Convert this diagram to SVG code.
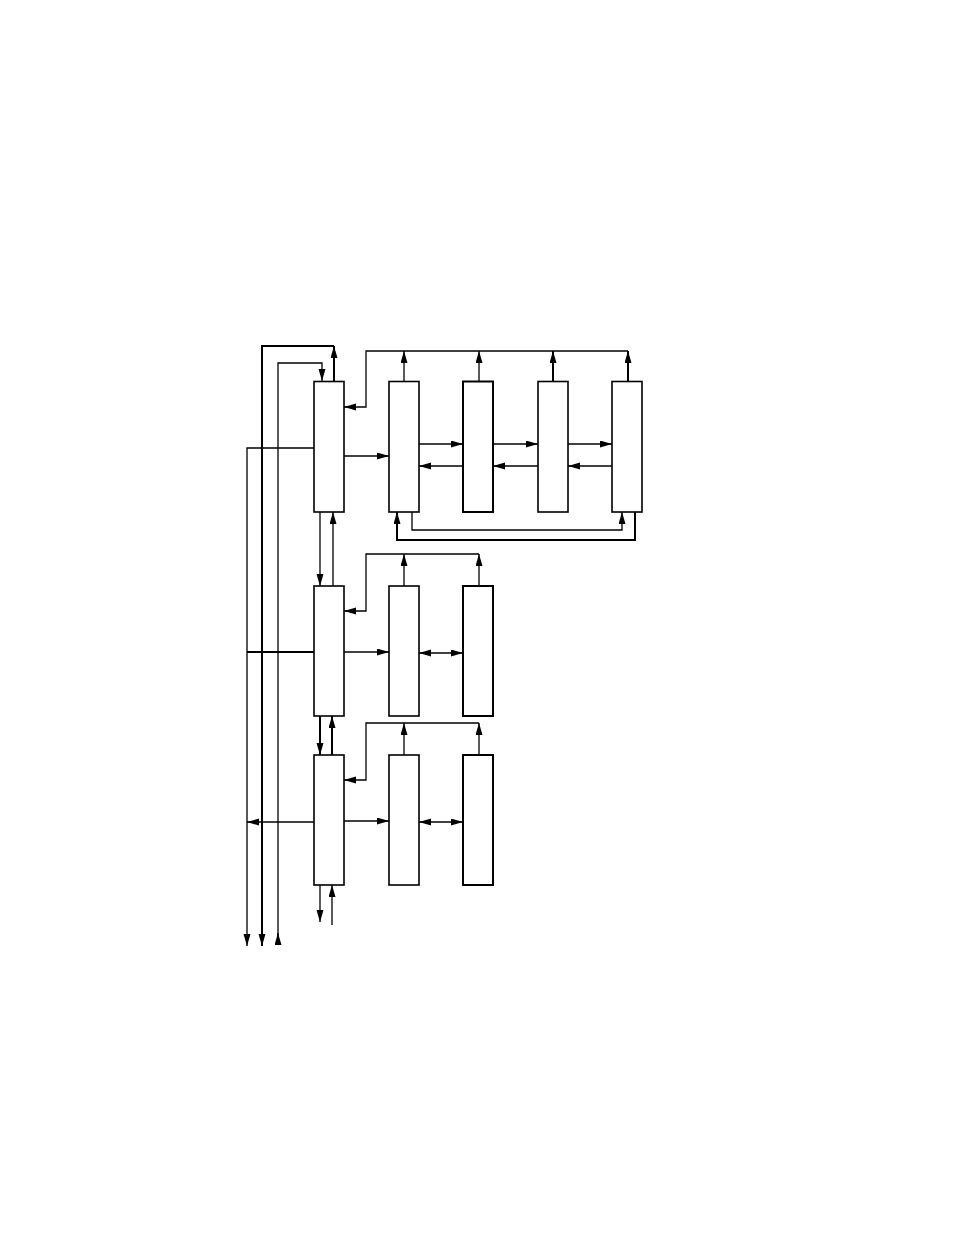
<svg xmlns="http://www.w3.org/2000/svg" width="954" height="1235" viewBox="0 0 954 1235">
<style>
.box{fill:#fff;stroke:#000;stroke-width:1.6}
.bx{fill:#fff;stroke:#000;stroke-width:2}
.ln{fill:none;stroke:#000;stroke-width:1.3}
.th{fill:none;stroke:#000;stroke-width:2}
</style>
<defs>
<marker id="ah" markerUnits="userSpaceOnUse" markerWidth="13" markerHeight="8" refX="12" refY="3.5" orient="auto">
<path d="M0,0 L12,3.5 L0,7 z" fill="#000"/>
</marker>
<marker id="ab" markerUnits="userSpaceOnUse" markerWidth="13" markerHeight="8" refX="12" refY="3.5" orient="auto-start-reverse">
<path d="M0,0 L12,3.5 L0,7 z" fill="#000"/>
</marker>
</defs>
<rect width="954" height="1235" fill="#fff"/>
<g id="connectors">
<line class="th" x1="334" y1="381" x2="334" y2="346" marker-end="url(#ah)"/>
<polyline class="th" points="334,346 262,346 262,946" marker-end="url(#ah)"/>
<polyline class="ln" points="278,945 278,363 322,363 322,381" marker-end="url(#ah)"/>
<line class="ln" x1="278" y1="945" x2="278" y2="933" marker-end="url(#ah)"/>
<polyline class="ln" points="314,448 247,448 247,946" marker-end="url(#ah)"/>
<line class="th" x1="314" y1="652" x2="247" y2="652"/>
<line class="ln" x1="314" y1="822" x2="247" y2="822" marker-end="url(#ah)"/>
<line class="ln" x1="344" y1="456" x2="389" y2="456" marker-end="url(#ah)"/>
<polyline class="ln" points="628,351 366,351 366,407 344,407" marker-end="url(#ah)"/>
<line class="ln" x1="404" y1="381" x2="404" y2="351" marker-end="url(#ah)"/>
<line class="ln" x1="479" y1="381" x2="479" y2="351" marker-end="url(#ah)"/>
<line class="th" x1="553" y1="381" x2="553" y2="351" marker-end="url(#ah)"/>
<line class="th" x1="628" y1="381" x2="628" y2="351" marker-end="url(#ah)"/>
<line class="ln" x1="419" y1="444" x2="463" y2="444" marker-end="url(#ah)"/>
<line class="ln" x1="463" y1="466" x2="419" y2="466" marker-end="url(#ah)"/>
<line class="ln" x1="493" y1="444" x2="538" y2="444" marker-end="url(#ah)"/>
<line class="ln" x1="538" y1="466" x2="493" y2="466" marker-end="url(#ah)"/>
<line class="ln" x1="568" y1="444" x2="612" y2="444" marker-end="url(#ah)"/>
<line class="ln" x1="612" y1="466" x2="568" y2="466" marker-end="url(#ah)"/>
<polyline class="ln" points="412,512 412,530 622,530 622,512" marker-end="url(#ah)"/>
<polyline class="th" points="635,512 635,540 397,540 397,512" marker-end="url(#ah)"/>
<line class="ln" x1="320" y1="512" x2="320" y2="586" marker-end="url(#ah)"/>
<line class="ln" x1="333" y1="586" x2="333" y2="512" marker-end="url(#ah)"/>
<polyline class="ln" points="479,554 366,554 366,611 344,611" marker-end="url(#ah)"/>
<line class="ln" x1="404" y1="586" x2="404" y2="554" marker-end="url(#ah)"/>
<line class="ln" x1="479" y1="586" x2="479" y2="554" marker-end="url(#ah)"/>
<line class="ln" x1="344" y1="652" x2="389" y2="652" marker-end="url(#ah)"/>
<line class="ln" x1="419" y1="653" x2="463" y2="653" marker-start="url(#ab)" marker-end="url(#ab)"/>
<line class="th" x1="320" y1="716" x2="320" y2="755" marker-end="url(#ah)"/>
<line class="th" x1="332" y1="755" x2="332" y2="716" marker-end="url(#ah)"/>
<polyline class="ln" points="479,723 366,723 366,780 344,780" marker-end="url(#ah)"/>
<line class="ln" x1="404" y1="755" x2="404" y2="723" marker-end="url(#ah)"/>
<line class="ln" x1="479" y1="755" x2="479" y2="723" marker-end="url(#ah)"/>
<line class="ln" x1="344" y1="821" x2="389" y2="821" marker-end="url(#ah)"/>
<line class="ln" x1="419" y1="822" x2="463" y2="822" marker-start="url(#ab)" marker-end="url(#ab)"/>
<line class="ln" x1="320" y1="885" x2="320" y2="922" marker-end="url(#ah)"/>
<line class="ln" x1="332" y1="925" x2="332" y2="885" marker-end="url(#ah)"/>
</g>
<g id="A1"><rect class="box" x="314" y="381.5" width="30" height="130.5"/></g>
<g id="B1"><rect class="box" x="389" y="381.5" width="30" height="130.5"/></g>
<g id="C1"><rect class="bx" x="463" y="381.5" width="30" height="130.5"/></g>
<g id="D1"><rect class="box" x="538" y="381.5" width="30" height="130.5"/></g>
<g id="E1"><rect class="box" x="612" y="381.5" width="30" height="130.5"/></g>
<g id="A2"><rect class="box" x="314" y="586" width="30" height="130"/></g>
<g id="B2"><rect class="box" x="389" y="586" width="30" height="130"/></g>
<g id="C2"><rect class="bx" x="463" y="586" width="30" height="130"/></g>
<g id="A3"><rect class="box" x="314" y="755" width="30" height="130"/></g>
<g id="B3"><rect class="box" x="389" y="755" width="30" height="130"/></g>
<g id="C3"><rect class="bx" x="463" y="755" width="30" height="130"/></g>
</svg>
